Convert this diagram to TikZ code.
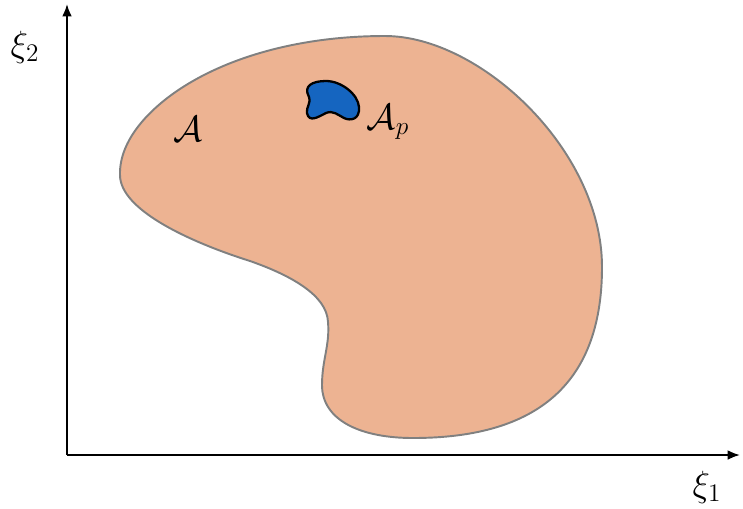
\documentclass[tikz,border=0pt]{standalone}
\usepackage{amsmath,amssymb}
\usepackage{tikz}
\usetikzlibrary{
    arrows.meta,
    positioning,
    calc
}
\definecolor{Cpeach}{RGB}{237, 179, 146}
\definecolor{Cedge}{RGB}{128, 128, 128}
\definecolor{Cblue}{RGB}{21, 101, 192}
\tikzset{
    axisline/.style={-{Latex[length=7pt, width=5.5pt]}, line width=1.1pt, black},
    bigset/.style={fill=Cpeach, draw=Cedge, line width=1.1pt},
    subset/.style={fill=Cblue, draw=black, line width=1.3pt},
    setlab/.style={inner sep=0pt, font=\fontsize{21}{24}\selectfont},
}

\begin{document}
\begin{tikzpicture}[x=0.02cm, y=-0.02cm]
    \useasboundingbox (0,0) rectangle (743,508);

    % ── 坐标轴 ────────────────────────────────────────────
    \coordinate (origin) at (67,455);
    \coordinate (xend) at (740,455);
    \coordinate (yend) at (67,4);

    % ── 区域 A ───────────────────────────────────────────
    \draw [bigset] (120,175)
        .. controls (119,140) and (150,108) .. (183,87)
        .. controls (230,57) and (300,36) .. (385,36)
        .. controls (480,36) and (602,150) .. (602,267)
        .. controls (602,390) and (530,438) .. (413,438)
        .. controls (360,438) and (322,420) .. (322,385)
        .. controls (322,360) and (330,345) .. (328,322)
        .. controls (327,295) and (290,275) .. (250,261)
        .. controls (190,242) and (120,210) .. (120,175) -- cycle;

    % ── 子区域 A_p ───────────────────────────────────────
    \draw [subset] (309,97)
        .. controls (303,86) and (312,81) .. (326,81)
        .. controls (341,81) and (358,94) .. (359,107)
        .. controls (360,120) and (350,121) .. (344,118)
        .. controls (338,115) and (333,110) .. (326,113)
        .. controls (318,117) and (309,123) .. (307,113)
        .. controls (306,107) and (311,104) .. (309,97) -- cycle;

    \draw [axisline] (origin) -- (xend);
    \draw [axisline] (origin) -- (yend);

    % ── 标签 ─────────────────────────────────────────────
    \node [setlab] (labA) at (188,129) {$\mathcal{A}$};
    \node [setlab] (labAp) at (388,122) {$\mathcal{A}_p$};
    \node [setlab] (labXiOne) at (707,487) {$\xi_1$};
    \node [setlab] (labXiTwo) at (25,47) {$\xi_2$};

\end{tikzpicture}
\end{document}
